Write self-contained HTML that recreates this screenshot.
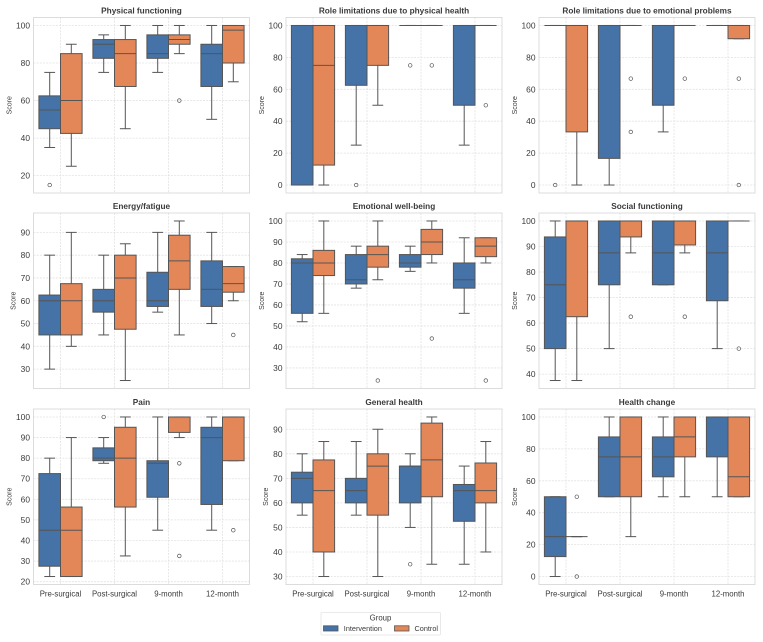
<!DOCTYPE html>
<html lang="en">
<head>
<meta charset="utf-8">
<title>Quality of life scores by group</title>
<style>
  html, body { margin: 0; padding: 0; background: #ffffff; }
  body { width: 763px; height: 642px; overflow: hidden; }
  svg { display: block; filter: blur(0.3px); }
  text { font-family: "Liberation Sans", Arial, sans-serif; fill: #3a3a3a; }
</style>
</head>
<body>
<svg id="chart" xmlns="http://www.w3.org/2000/svg" width="763" height="642" viewBox="0 0 763 642">
  <g id="panels"></g>
  <g>
    <rect x="321" y="612.5" width="119.5" height="22.5" fill="#ffffff" stroke="#e4e4e4" stroke-width="0.8" rx="1"/>
    <text x="380.5" y="620.5" font-size="7.8" text-anchor="middle">Group</text>
    <rect x="323.5" y="625.8" width="14.5" height="5.2" fill="#4572a7" stroke="#555555" stroke-width="0.8"/>
    <text x="343.8" y="631" font-size="7.3">Intervention</text>
    <rect x="394.5" y="625.8" width="14.5" height="5.2" fill="#e38759" stroke="#555555" stroke-width="0.8"/>
    <text x="414.5" y="631" font-size="7.3">Control</text>
  </g>
</svg>
<script>
// Each entry: [lower whisker, Q1, median, Q3, upper whisker, [outliers]]
const categories = ['Pre-surgical', 'Post-surgical', '9-month', '12-month'];
const titles = ['Physical functioning', 'Role limitations due to physical health', 'Role limitations due to emotional problems', 'Energy/fatigue', 'Emotional well-being', 'Social functioning', 'Pain', 'General health', 'Health change'];

const physicalIntervention = [[35,45,55,62.5,75,[15]], [75,82.5,90,92.5,95,[]], [75,82.5,85,95,100,[]], [50,67.5,85,90,100,[]]];
const physicalControl = [[25,42.5,60,85,90,[]], [45,67.5,85,92.5,100,[]], [85,90,92.5,95,100,[60]], [70,80,97.5,100,100,[]]];
const physicalTicks = [20,40,60,80,100];

const rolePhysicalIntervention = [[0,0,100,100,100,[]], [25,62.5,100,100,100,[0]], [100,100,100,100,100,[75]], [25,50,100,100,100,[]]];
const rolePhysicalControl = [[0,12.5,75,100,100,[]], [50,75,100,100,100,[]], [100,100,100,100,100,[75]], [100,100,100,100,100,[50]]];
const rolePhysicalTicks = [0,20,40,60,80,100];

const roleEmotionalIntervention = [[100,100,100,100,100,[0]], [0,16.7,100,100,100,[]], [33.3,50,100,100,100,[]], [100,100,100,100,100,[]]];
const roleEmotionalControl = [[0,33.3,100,100,100,[]], [100,100,100,100,100,[66.7,33.3]], [100,100,100,100,100,[66.7]], [91.7,91.7,100,100,100,[66.7,0]]];
const roleEmotionalTicks = [0,20,40,60,80,100];

const energyIntervention = [[30,45,60,62.5,80,[]], [45,55,60,65,80,[]], [55,57.5,60,72.5,90,[]], [50,57.5,65,77.5,90,[]]];
const energyControl = [[40,45,60,67.5,90,[]], [25,47.5,70,80,85,[]], [45,65,77.5,88.75,95,[]], [60,63.75,67.5,75,75,[45]]];
const energyTicks = [30,40,50,60,70,80,90];

const emotionalIntervention = [[52,56,80,82,84,[]], [68,70,72,84,88,[]], [76,78,80,84,88,[]], [56,68,72,80,92,[]]];
const emotionalControl = [[56,74,80,86,100,[]], [72,78,84,88,100,[24]], [80,84,90,96,100,[44]], [80,83,88,92,92,[24]]];
const emotionalTicks = [30,40,50,60,70,80,90,100];

const socialIntervention = [[37.5,50,75,93.75,100,[]], [50,75,87.5,100,100,[]], [75,75,87.5,100,100,[]], [50,68.75,87.5,100,100,[]]];
const socialControl = [[37.5,62.5,100,100,100,[]], [87.5,93.75,100,100,100,[62.5]], [87.5,90.6,100,100,100,[62.5]], [100,100,100,100,100,[50]]];
const socialTicks = [40,50,60,70,80,90,100];

const painIntervention = [[22.5,27.5,45,72.5,80,[]], [77.5,78.75,80,85,90,[100]], [45,61,77.5,78.75,100,[]], [45,57.5,90,95,100,[]]];
const painControl = [[22.5,22.5,45,56.25,90,[]], [32.5,56.25,80,95,100,[]], [90,92.5,100,100,100,[77.5,32.5]], [78.75,78.75,100,100,100,[45]]];
const painTicks = [20,30,40,50,60,70,80,90,100];

const generalIntervention = [[55,60,70,72.5,80,[]], [55,60,65,70,85,[]], [50,60,75,75,80,[35]], [35,52.5,65,67.5,75,[]]];
const generalControl = [[30,40,65,77.5,85,[]], [30,55,75,80,90,[]], [35,62.5,77.5,92.5,95,[]], [40,60,65,76.25,85,[]]];
const generalTicks = [30,40,50,60,70,80,90];

const changeIntervention = [[0,12.5,25,50,50,[]], [50,50,75,87.5,100,[]], [50,62.5,75,87.5,100,[]], [50,75,100,100,100,[]]];
const changeControl = [[25,25,25,25,25,[50,0]], [25,50,75,100,100,[]], [50,75,87.5,100,100,[]], [50,50,62.5,100,100,[]]];
const changeTicks = [0,20,40,60,80,100];

const interventionSeries = [physicalIntervention, rolePhysicalIntervention, roleEmotionalIntervention, energyIntervention, emotionalIntervention, socialIntervention, painIntervention, generalIntervention, changeIntervention];
const controlSeries = [physicalControl, rolePhysicalControl, roleEmotionalControl, energyControl, emotionalControl, socialControl, painControl, generalControl, changeControl];
const tickSeries = [physicalTicks, rolePhysicalTicks, roleEmotionalTicks, energyTicks, emotionalTicks, socialTicks, painTicks, generalTicks, changeTicks];

const NS = 'http://www.w3.org/2000/svg';
const LINE = '#555555';
const GROUP_FILLS = ['#4572a7', '#e38759'];
const GROUP_KEYS = ['intervention', 'control'];
const COL_LEFT = [33.5, 286, 539];
const ROW_TOP = [17.5, 213, 409];
const PANEL_W = 216;
const PANEL_H = 175.5;

const root = document.getElementById('panels');

function el(tag, parent, attrs) {
  const node = document.createElementNS(NS, tag);
  for (const k in attrs) node.setAttribute(k, attrs[k]);
  parent.appendChild(node);
  return node;
}

function slug(s) {
  return s.toLowerCase().replace(/[^a-z0-9]+/g, '-').replace(/^-|-$/g, '');
}

function extent(seriesA, seriesB) {
  const vals = [];
  [seriesA, seriesB].forEach(function (series) {
    series.forEach(function (s) {
      vals.push(s[0], s[4]);
      s[5].forEach(function (f) { vals.push(f); });
    });
  });
  const lo = Math.min.apply(null, vals);
  const hi = Math.max.apply(null, vals);
  const m = (hi - lo) * 0.05;
  return [lo - m, hi + m];
}

function drawBox(parent, s, cx, w, yScale, fill) {
  const left = cx - w / 2;
  const capHalf = w / 4;
  const stroke = { stroke: LINE, 'stroke-width': 1, fill: 'none' };

  const lowWhisker = el('line', parent, Object.assign({ x1: cx, x2: cx, y1: yScale(s[1]), y2: yScale(s[0]) }, stroke));
  
  

  const highWhisker = el('line', parent, Object.assign({ x1: cx, x2: cx, y1: yScale(s[3]), y2: yScale(s[4]) }, stroke));
  
  

  const lowCap = el('line', parent, Object.assign({ x1: cx - capHalf, x2: cx + capHalf, y1: yScale(s[0]), y2: yScale(s[0]) }, stroke));
  
  

  const highCap = el('line', parent, Object.assign({ x1: cx - capHalf, x2: cx + capHalf, y1: yScale(s[4]), y2: yScale(s[4]) }, stroke));
  
  

  const box = el('rect', parent, {
    x: left, y: yScale(s[3]), width: w, height: Math.max(0, yScale(s[1]) - yScale(s[3])),
    fill: fill, stroke: LINE, 'stroke-width': 1
  });
  
  

  const median = el('line', parent, Object.assign({ x1: left, x2: left + w, y1: yScale(s[2]), y2: yScale(s[2]) }, stroke));
  
  

  s[5].forEach(function (value) {
    const dot = el('circle', parent, { cx: cx, cy: yScale(value), r: 1.8, fill: 'none', stroke: LINE, 'stroke-width': 0.7 });
    
    
  });
}

titles.forEach(function (title, p) {
  const col = p % 3;
  const row = Math.floor(p / 3);
  const left = COL_LEFT[col];
  const top = ROW_TOP[row];
  const bottom = top + PANEL_H;
  const dom = extent(interventionSeries[p], controlSeries[p]);
  const yScale = function (v) { return bottom - (v - dom[0]) / (dom[1] - dom[0]) * PANEL_H; };
  const band = PANEL_W / categories.length;
  const xScale = function (i) { return left + band * (i + 0.5); };

  const panel = el('g', root, {});
  
  

  const ticks = tickSeries[p];
  ticks.forEach(function (t) {
    const grid = el('line', panel, { x1: left, x2: left + PANEL_W, y1: yScale(t), y2: yScale(t), stroke: '#e2e2e2', 'stroke-width': 0.8, 'stroke-dasharray': '2 1.2' });
    
    

    const label = el('text', panel, { x: left - 3.5, y: yScale(t) + 3, 'font-size': 8.4, 'text-anchor': 'end' });
    label.textContent = String(t);
    
    
  });

  categories.forEach(function (cat, i) {
    const grid = el('line', panel, { x1: xScale(i), x2: xScale(i), y1: top, y2: bottom, stroke: '#e2e2e2', 'stroke-width': 0.8, 'stroke-dasharray': '2 1.2' });
    
    

    if (row === 2) {
      const label = el('text', panel, { x: xScale(i), y: 596.5, 'font-size': 7.8, 'text-anchor': 'middle' });
      label.textContent = cat;
      
      
    }
  });

  const frame = el('rect', panel, { x: left, y: top, width: PANEL_W, height: PANEL_H, fill: 'none', stroke: '#d9d9d9', 'stroke-width': 0.9 });
  
  

  const heading = el('text', panel, { x: left + PANEL_W / 2, y: top - 4, 'font-size': 8.25, 'font-weight': 'bold', 'text-anchor': 'middle' });
  heading.textContent = title;
  
  

  const maxTick = Math.max.apply(null, ticks);
  const labelX = left - (maxTick >= 100 ? 22 : 18);
  const midY = top + PANEL_H / 2;
  const yTitle = el('text', panel, { x: labelX, y: midY, 'font-size': 7, 'text-anchor': 'middle', transform: 'rotate(-90 ' + labelX + ' ' + midY + ')' });
  yTitle.textContent = 'Score';
  
  

  const boxW = band * 0.4;
  [interventionSeries[p], controlSeries[p]].forEach(function (series, g) {
    const groupNode = el('g', panel, {});
    
    
    series.forEach(function (stats, i) {
      const cx = xScale(i) + (g === 0 ? -boxW / 2 : boxW / 2);
      const boxGroup = el('g', groupNode, {});
      
      
      drawBox(boxGroup, stats, cx, boxW, yScale, GROUP_FILLS[g]);
    });
  });
});
</script>
</body>
</html>
